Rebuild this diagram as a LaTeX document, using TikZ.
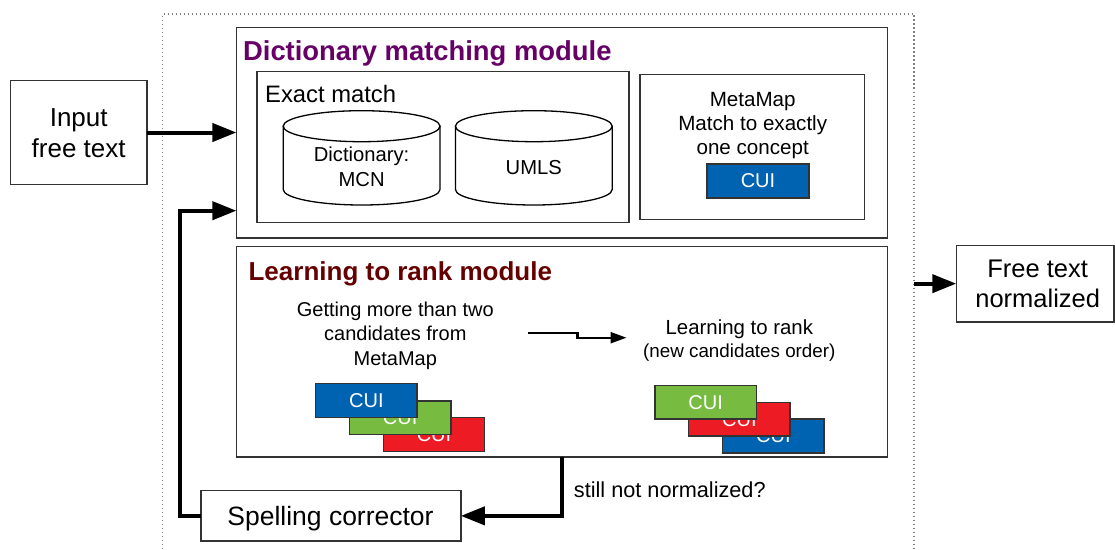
\documentclass[tikz,border=0pt]{standalone}
\usepackage{fontspec}
\setmainfont{Liberation Sans}
\usetikzlibrary{arrows.meta}
\definecolor{dictpurple}{HTML}{660066}
\definecolor{rankred}{HTML}{660000}
\definecolor{cuiblue}{HTML}{0063B1}
\definecolor{cuigreen}{HTML}{77BC41}
\definecolor{cuired}{HTML}{ED1C24}
\definecolor{edgecol}{HTML}{333333}
\begin{document}
\begin{tikzpicture}[x=1pt,y=-1pt,
  box/.style={draw=edgecol, line width=1.5pt, fill=white, inner sep=0pt, outer sep=0pt},
  cuibox/.style={draw=edgecol, line width=1.5pt, inner sep=0pt, outer sep=0pt,
     minimum width=101.4pt, minimum height=33.7pt, text=white, font=\fontsize{20}{24}\selectfont},
  lbl/.style={inner sep=0pt, anchor=base, align=center},
  bigarrow/.style={line width=4pt, -{Triangle[length=24pt,width=18pt]}},
  smallarrow/.style={line width=2.2pt, -{Triangle[length=16pt,width=11pt]}},
  cyl/.style={draw=black, line width=1.3pt, fill=white},
  dots/.style={draw=gray, line width=1.2pt, dash pattern=on 1.2pt off 2.8pt}
]
\useasboundingbox (0,0) rectangle (1115,549);

% outer dotted container
\coordinate (oBL) at (162.5,549);
\coordinate (oTL) at (162.5,14);
\coordinate (oTR) at (914,14);
\coordinate (oBR) at (914,549);
\draw[dots] (oBL) -- (oTL) -- (oTR) -- (oBR);

% main boxes
\node[box, minimum width=136.1pt, minimum height=103.6pt] (input) at (78.75,132.5) {};
\node[box, minimum width=650.9pt, minimum height=210.7pt] (dict) at (561.85,132.65) {};
\node[box, minimum width=372.2pt, minimum height=150.6pt] (exact) at (442.9,147) {};
\node[box, minimum width=224.5pt, minimum height=144.6pt] (mmbox) at (752.25,147) {};
\node[box, minimum width=650.7pt, minimum height=210.9pt] (learn) at (561.95,351.75) {};
\node[box, minimum width=259.8pt, minimum height=50.3pt] (spell) at (330.9,515.85) {};
\node[box, minimum width=157.7pt, minimum height=76.7pt] (free) at (1035.15,283.65) {};

% texts of boxes (multi-line: anchor base = last line baseline)
\node[lbl, font=\fontsize{26}{30.6}\selectfont] (inputtxt) at (78.7,157.3) {Input\\free text};
\node[lbl, font=\fontsize{25.5}{30.4}\selectfont] (freetxt) at (1037.7,307.7) {Free text\\normalized};
\node[lbl, font=\fontsize{26.5}{30}\selectfont] (spelltxt) at (330.5,525) {Spelling corrector};
\node[lbl, anchor=base west, text=dictpurple, font=\fontsize{27.4}{32}\selectfont\bfseries] (dicttitle) at (242.9,60) {Dictionary matching module};
\node[lbl, anchor=base west, text=rankred, font=\fontsize{26}{31}\selectfont\bfseries] (ranktitle) at (248.4,280.2) {Learning to rank module};
\node[lbl, anchor=base west, font=\fontsize{23.8}{28}\selectfont] (exacttxt) at (265,102.5) {Exact match};

% cylinders
\draw[cyl] (283.2,126.2) -- (283.2,189.5) arc[start angle=180, end angle=360, x radius=78.4pt, y radius=15.5pt] -- (440,126.2) -- cycle;
\draw[cyl] (361.6,126.2) ellipse [x radius=78.4pt, y radius=15.5pt];
\node[lbl, font=\fontsize{20.2}{24.5}\selectfont] (mcn) at (361.6,186) {Dictionary:\\MCN};
\draw[cyl] (455.4,126.2) -- (455.4,189.5) arc[start angle=180, end angle=360, x radius=78.4pt, y radius=15.5pt] -- (612.2,126.2) -- cycle;
\draw[cyl] (533.8,126.2) ellipse [x radius=78.4pt, y radius=15.5pt];
\node[lbl, font=\fontsize{20.2}{24.5}\selectfont] (umls) at (533.8,174) {UMLS};

% MetaMap box
\node[lbl, font=\fontsize{20.6}{24}\selectfont] (mmtxt) at (752.7,154) {MetaMap\\Match to exactly\\one concept};
\node[cuibox, fill=cuiblue, minimum width=101.6pt, minimum height=34pt] (cui0) at (758,181) {CUI};

% learning to rank contents
\node[lbl, font=\fontsize{20}{24.5}\selectfont] (getting) at (395.3,365) {Getting more than two\\candidates from\\MetaMap};
\node[lbl, font=\fontsize{20.4}{23}\selectfont] (ltr) at (739.3,357.3) {Learning to rank\\{\fontsize{18.8}{23}\selectfont (new candidates order)}};
\coordinate (sa1) at (528,333);
\coordinate (sa2) at (626.5,337.7);
\draw[smallarrow] (sa1) -- (577.5,333) -- (577.5,337.7) -- (sa2);

% left CUI stack
\node[cuibox, fill=cuired] (lred) at (434,434.4) {CUI};
\node[cuibox, fill=cuigreen] (lgreen) at (400.1,417.7) {CUI};
\node[cuibox, fill=cuiblue] (lblue) at (366.4,400.5) {CUI};
% right CUI stack
\node[cuibox, fill=cuiblue] (rblue) at (773.4,436) {CUI};
\node[cuibox, fill=cuired] (rred) at (739.4,419.2) {CUI};
\node[cuibox, fill=cuigreen] (rgreen) at (705.7,402.3) {CUI};

% connectors
\draw[bigarrow] (input.east) -- (input.east -| dict.west);
\coordinate (outR) at (914,283.65);
\draw[bigarrow] (outR) -- (free.west);
\coordinate (lout) at (562.2,457.2);
\draw[bigarrow] (lout) |- (spell.east);
\coordinate (fbin) at (236.4,210.7);
\coordinate (fbcorner) at (180.4,515.85);
\draw[bigarrow] (spell.west) -- (fbcorner) |- (fbin);

\node[lbl, anchor=base west, font=\fontsize{21.7}{26}\selectfont] (still) at (573.7,497.3) {still not normalized?};
\end{tikzpicture}
\end{document}
